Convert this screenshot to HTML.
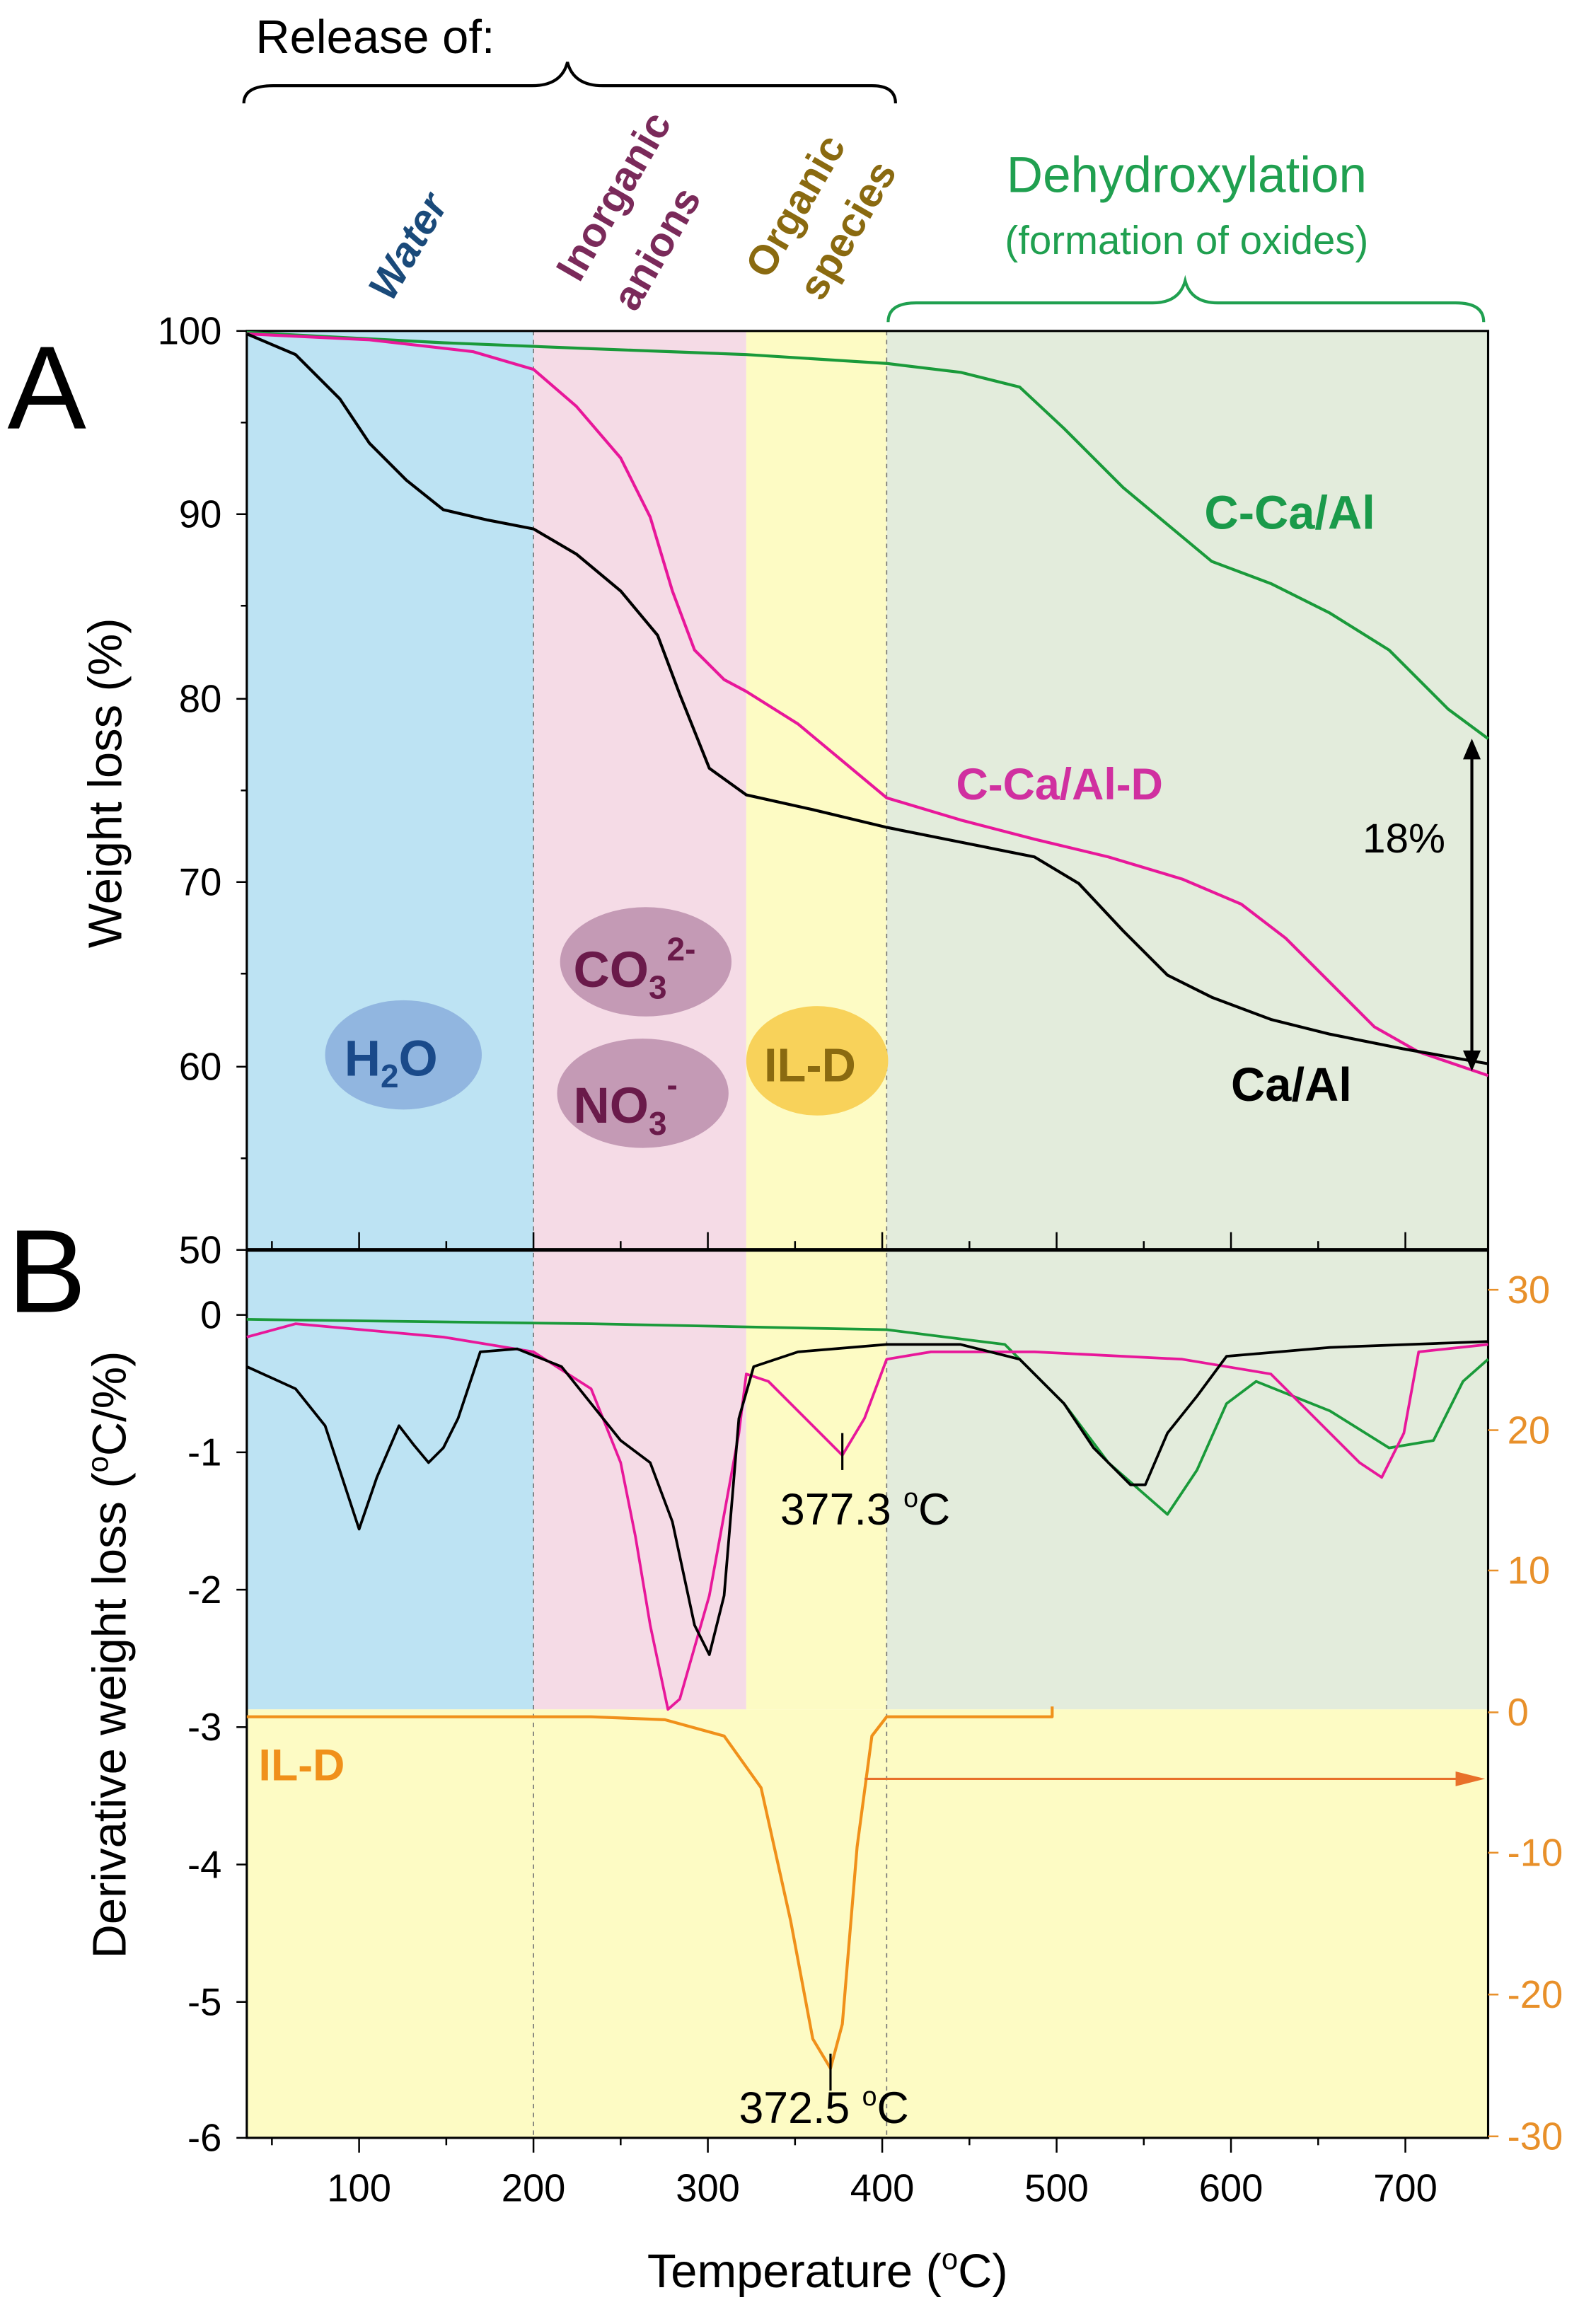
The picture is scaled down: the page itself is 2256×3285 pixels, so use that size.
<!DOCTYPE html>
<html><head><meta charset="utf-8"><style>html,body{margin:0;padding:0;background:#fff}svg{display:block}</style></head>
<body>
<svg width="2256" height="3285" viewBox="0 0 1080 1573" preserveAspectRatio="none" xmlns="http://www.w3.org/2000/svg" font-family="Liberation Sans, sans-serif">
<!-- backgrounds -->
<rect x="167" y="224" width="194" height="933" fill="#bde3f3"/>
<rect x="361" y="224" width="144" height="933" fill="#f5dbe6"/>
<rect x="505" y="224" width="95" height="933" fill="#fdfbc4"/>
<rect x="600" y="224" width="407" height="933" fill="#e3ecdc"/>
<rect x="167" y="1157" width="840" height="290" fill="#fdfbc4"/>
<line x1="361" y1="224" x2="361" y2="1447" stroke="#777" stroke-width="0.8" stroke-dasharray="3,3"/>
<line x1="600" y1="224" x2="600" y2="1447" stroke="#777" stroke-width="0.8" stroke-dasharray="3,3"/>
<!-- frames -->
<rect x="167" y="224" width="840" height="1223" fill="none" stroke="#000" stroke-width="1.5"/>
<line x1="167" y1="846" x2="1007" y2="846" stroke="#000" stroke-width="2.5"/>
<!-- A y ticks -->
<g stroke="#000" stroke-width="1.2">
<line x1="160" y1="224" x2="167" y2="224"/><line x1="160" y1="348" x2="167" y2="348"/><line x1="160" y1="473" x2="167" y2="473"/><line x1="160" y1="597" x2="167" y2="597"/><line x1="160" y1="722" x2="167" y2="722"/><line x1="160" y1="846" x2="167" y2="846"/>
<line x1="163" y1="286" x2="167" y2="286"/><line x1="163" y1="410" x2="167" y2="410"/><line x1="163" y1="535" x2="167" y2="535"/><line x1="163" y1="659" x2="167" y2="659"/><line x1="163" y1="784" x2="167" y2="784"/>
<!-- x ticks at top of B and bottom -->
<line x1="243" y1="846" x2="243" y2="834"/><line x1="361" y1="846" x2="361" y2="834"/><line x1="479" y1="846" x2="479" y2="834"/><line x1="597" y1="846" x2="597" y2="834"/><line x1="715" y1="846" x2="715" y2="834"/><line x1="833" y1="846" x2="833" y2="834"/><line x1="951" y1="846" x2="951" y2="834"/>
<line x1="184" y1="846" x2="184" y2="840"/><line x1="302" y1="846" x2="302" y2="840"/><line x1="420" y1="846" x2="420" y2="840"/><line x1="538" y1="846" x2="538" y2="840"/><line x1="656" y1="846" x2="656" y2="840"/><line x1="774" y1="846" x2="774" y2="840"/><line x1="892" y1="846" x2="892" y2="840"/>
<line x1="243" y1="1447" x2="243" y2="1457"/><line x1="361" y1="1447" x2="361" y2="1457"/><line x1="479" y1="1447" x2="479" y2="1457"/><line x1="597" y1="1447" x2="597" y2="1457"/><line x1="715" y1="1447" x2="715" y2="1457"/><line x1="833" y1="1447" x2="833" y2="1457"/><line x1="951" y1="1447" x2="951" y2="1457"/>
<line x1="184" y1="1447" x2="184" y2="1452"/><line x1="302" y1="1447" x2="302" y2="1452"/><line x1="420" y1="1447" x2="420" y2="1452"/><line x1="538" y1="1447" x2="538" y2="1452"/><line x1="656" y1="1447" x2="656" y2="1452"/><line x1="774" y1="1447" x2="774" y2="1452"/><line x1="892" y1="1447" x2="892" y2="1452"/>
<!-- B left ticks -->
<line x1="160" y1="890" x2="167" y2="890"/><line x1="160" y1="983" x2="167" y2="983"/><line x1="160" y1="1076" x2="167" y2="1076"/><line x1="160" y1="1169" x2="167" y2="1169"/><line x1="160" y1="1262" x2="167" y2="1262"/><line x1="160" y1="1355" x2="167" y2="1355"/><line x1="160" y1="1447" x2="167" y2="1447"/>
</g>
<g stroke="#e8902a" stroke-width="1.2">
<line x1="1007" y1="873" x2="1014" y2="873"/><line x1="1007" y1="968" x2="1014" y2="968"/><line x1="1007" y1="1063" x2="1014" y2="1063"/><line x1="1007" y1="1159" x2="1014" y2="1159"/><line x1="1007" y1="1254" x2="1014" y2="1254"/><line x1="1007" y1="1350" x2="1014" y2="1350"/><line x1="1007" y1="1446" x2="1014" y2="1446"/>
</g>
<!-- A curves -->
<polyline fill="none" stroke="#1a9a3a" stroke-width="2" stroke-linejoin="round" points="167,225 300,232 400,236 505,240 600,246 650,252 690,262 720,290 760,330 790,355 820,380 860,395 900,415 940,440 980,480 1007,500"/>
<polyline fill="none" stroke="#e8179a" stroke-width="2" stroke-linejoin="round" points="167,226 250,230 320,238 361,250 390,275 420,310 440,350 455,400 470,440 490,460 505,468 540,490 570,515 600,540 650,555 700,568 750,580 800,595 840,612 870,635 900,665 930,695 960,712 1007,728"/>
<polyline fill="none" stroke="#000" stroke-width="2" stroke-linejoin="round" points="167,226 200,240 230,270 250,300 275,325 300,345 330,352 361,358 390,375 420,400 445,430 460,470 480,520 505,538 550,548 600,560 650,570 700,580 730,598 760,630 790,660 820,675 860,690 900,700 950,710 1007,720"/>
<!-- B curves -->
<polyline fill="none" stroke="#1a9a3a" stroke-width="1.8" stroke-linejoin="round" points="167,893 400,896 500,898 600,900 680,910 720,950 750,990 790,1025 810,995 830,950 850,935 900,955 940,980 970,975 990,935 1007,920"/>
<polyline fill="none" stroke="#e8179a" stroke-width="1.8" stroke-linejoin="round" points="167,905 200,896 300,905 361,915 400,940 420,990 430,1040 440,1100 452,1157 460,1150 480,1080 500,970 505,930 520,935 545,960 570,985 585,960 600,920 630,915 700,915 800,920 860,930 890,960 920,990 935,1000 950,970 960,915 1007,910"/>
<polyline fill="none" stroke="#000" stroke-width="1.8" stroke-linejoin="round" points="167,925 200,940 220,965 243,1035 255,1000 270,965 280,978 290,990 300,980 310,960 325,915 350,913 380,925 400,950 420,975 440,990 455,1030 470,1100 480,1120 490,1080 500,960 510,925 540,915 600,910 650,910 690,920 720,950 740,980 765,1005 775,1005 790,970 810,945 830,918 900,912 1007,908"/>
<line x1="570" y1="970" x2="570" y2="995" stroke="#000" stroke-width="1.5"/>
<polyline fill="none" stroke="#f0901a" stroke-width="2" stroke-linejoin="round" points="167,1162 400,1162 450,1164 490,1175 515,1210 535,1300 550,1380 562,1400 570,1370 580,1250 590,1175 600,1162 712,1162 712,1155"/>
<line x1="562" y1="1390" x2="562" y2="1415" stroke="#000" stroke-width="1.5"/>
<line x1="585" y1="1204" x2="990" y2="1204" stroke="#e8702a" stroke-width="1.5"/>
<polygon points="1005,1204 985,1199 985,1209" fill="#e8702a"/>
<!-- 18% arrow -->
<line x1="996" y1="510" x2="996" y2="715" stroke="#000" stroke-width="2"/>
<polygon points="996,500 990,514 1002,514" fill="#000"/>
<polygon points="996,725 990,711 1002,711" fill="#000"/>
<text x="922" y="577" font-size="28">18%</text>
<!-- ellipses -->
<ellipse cx="273" cy="714" rx="53" ry="37" fill="#8aaedc" opacity="0.85"/>
<ellipse cx="437" cy="651" rx="58" ry="37" fill="#c49ab5"/>
<ellipse cx="435" cy="740" rx="58" ry="37" fill="#c49ab5"/>
<ellipse cx="553" cy="718" rx="48" ry="37" fill="#f8d25a"/>
<text x="233" y="728" font-size="34" font-weight="bold" fill="#1a4a8a">H<tspan font-size="22" dy="8">2</tspan><tspan dy="-8">O</tspan></text>
<text x="388" y="668" font-size="34" font-weight="bold" fill="#6a1a4a">CO<tspan font-size="22" dy="8">3</tspan><tspan font-size="22" dy="-26">2-</tspan></text>
<text x="388" y="760" font-size="34" font-weight="bold" fill="#6a1a4a">NO<tspan font-size="22" dy="8">3</tspan><tspan font-size="22" dy="-26">-</tspan></text>
<text x="517" y="732" font-size="32" font-weight="bold" fill="#8a6a10">IL-D</text>
<!-- labels -->
<text x="815" y="358" font-size="32" font-weight="bold" fill="#1a9a4a">C-Ca/Al</text>
<text x="647" y="541" font-size="30" font-weight="bold" fill="#d030a0">C-Ca/Al-D</text>
<text x="833" y="745" font-size="32" font-weight="bold" fill="#000">Ca/Al</text>
<text x="175" y="1205" font-size="30" font-weight="bold" fill="#f0901a">IL-D</text>
<text x="528" y="1032" font-size="30">377.3 <tspan font-size="18" dy="-12">o</tspan><tspan dy="12">C</tspan></text>
<text x="500" y="1437" font-size="30">372.5 <tspan font-size="18" dy="-12">o</tspan><tspan dy="12">C</tspan></text>
<text x="5" y="290" font-size="80">A</text>
<text x="5" y="888" font-size="80">B</text>
<!-- tick labels -->
<g font-size="26" text-anchor="end">
<text x="150" y="233">100</text><text x="150" y="357">90</text><text x="150" y="482">80</text><text x="150" y="606">70</text><text x="150" y="731">60</text><text x="150" y="855">50</text>
<text x="150" y="899">0</text><text x="150" y="992">-1</text><text x="150" y="1085">-2</text><text x="150" y="1178">-3</text><text x="150" y="1271">-4</text><text x="150" y="1364">-5</text><text x="150" y="1456">-6</text>
</g>
<g font-size="26" fill="#e8902a">
<text x="1020" y="882">30</text><text x="1020" y="977">20</text><text x="1020" y="1072">10</text><text x="1020" y="1168">0</text><text x="1020" y="1263">-10</text><text x="1020" y="1359">-20</text><text x="1020" y="1455">-30</text>
</g>
<g font-size="26" text-anchor="middle">
<text x="243" y="1490">100</text><text x="361" y="1490">200</text><text x="479" y="1490">300</text><text x="597" y="1490">400</text><text x="715" y="1490">500</text><text x="833" y="1490">600</text><text x="951" y="1490">700</text>
</g>
<text x="560" y="1548" font-size="32" text-anchor="middle">Temperature (<tspan font-size="20" dy="-12">o</tspan><tspan dy="12">C)</tspan></text>
<text transform="translate(82,530) rotate(-90)" font-size="32" text-anchor="middle">Weight loss (%)</text>
<text transform="translate(85,1120) rotate(-90)" font-size="32" text-anchor="middle">Derivative weight loss (<tspan font-size="20" dy="-12">o</tspan><tspan dy="12">C/%)</tspan></text>
<!-- header -->
<text x="173" y="36" font-size="32">Release of:</text>
<path d="M165,70 Q165,58 185,58 L360,58 Q380,58 384,42 Q388,58 408,58 L590,58 Q606,58 606,70" fill="none" stroke="#000" stroke-width="2"/>
<text transform="translate(265,205) rotate(-60)" font-size="28" font-weight="bold" font-style="italic" fill="#1a4a7a">Water</text>
<text transform="translate(392,192) rotate(-60)" font-size="28" font-weight="bold" fill="#7a2a5a">Inorganic</text>
<text transform="translate(430,212) rotate(-60)" font-size="28" font-weight="bold" fill="#7a2a5a">anions</text>
<text transform="translate(520,190) rotate(-60)" font-size="28" font-weight="bold" fill="#8a6a10">Organic</text>
<text transform="translate(556,205) rotate(-60)" font-size="28" font-weight="bold" fill="#8a6a10">species</text>
<text x="803" y="130" font-size="34" text-anchor="middle" fill="#20a050">Dehydroxylation</text>
<text x="803" y="172" font-size="27" text-anchor="middle" fill="#20a050">(formation of oxides)</text>
<path d="M601,218 Q601,205 620,205 L780,205 Q798,205 802,190 Q806,205 824,205 L985,205 Q1004,205 1004,218" fill="none" stroke="#20a050" stroke-width="2"/>
</svg>
</body></html>
